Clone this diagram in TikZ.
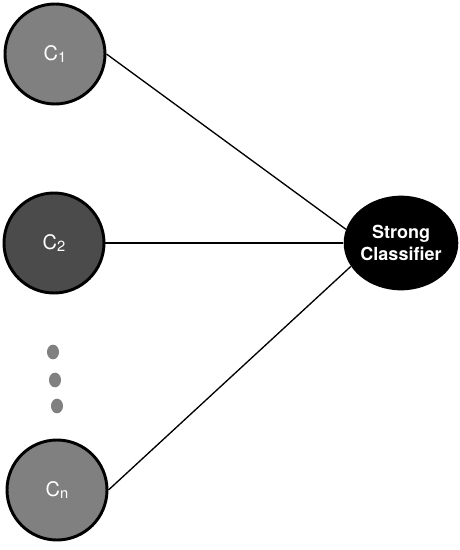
\documentclass[tikz,border=0pt]{standalone}
\usepackage{fontspec}
\setmainfont{TeX Gyre Heros}
\usepackage{tikz}
\usepackage{xcolor}
\usetikzlibrary{shapes.geometric, arrows, arrows.meta, positioning}
\definecolor{grisclaro}{HTML}{808080}
\definecolor{grisoscuro}{HTML}{4B4B4B}
\tikzstyle{weak} = [circle, 
minimum size=75pt, 
inner sep=0pt, 
line width=2.2pt, 
text=white, 
font=\fontsize{15}{18}\selectfont, 
draw=black]
\tikzstyle{strongbox} = [ellipse, 
minimum width=85pt, 
minimum height=71pt, 
inner sep=0pt, 
fill=black, 
text=white, 
align=center, 
font=\fontsize{13.5}{17}\selectfont\bfseries]
\tikzstyle{punto} = [ellipse, 
minimum width=9pt, 
minimum height=11pt, 
inner sep=0pt, 
fill=grisclaro]
\tikzstyle{link} = [line width=1pt]
\newcommand{\subidx}[1]{\raisebox{-0.15ex}{\fontsize{11}{12}\selectfont #1}}

\begin{document}
\begin{tikzpicture}[x=0.75pt, y=-0.75pt]
        \useasboundingbox (0,0) rectangle (460,550);

        % --- Definición de nodos ---
        \node (c1) [weak, fill=grisclaro] at (55,54) {C\subidx{1}};
        \node (c2) [weak, fill=grisoscuro] at (54,243) {C\subidx{2}};
        \node (cn) [weak, fill=grisclaro] at (57,490) {C\subidx{n}};
        \node (strong) [strongbox] at (401,243) {Strong\\Classifier};

        % Puntos suspensivos
        \node (d1) [punto] at (53,352) {};
        \node (d2) [punto] at (55,380) {};
        \node (d3) [punto] at (57,406) {};

        % --- Conexiones hacia el clasificador fuerte ---
        \draw [link] (c1.east) -- (strong.166);
        \draw [link] (c2.east) -- (strong.west);
        \draw [link] (cn.east) -- (strong.205);

    \end{tikzpicture}
\end{document}
